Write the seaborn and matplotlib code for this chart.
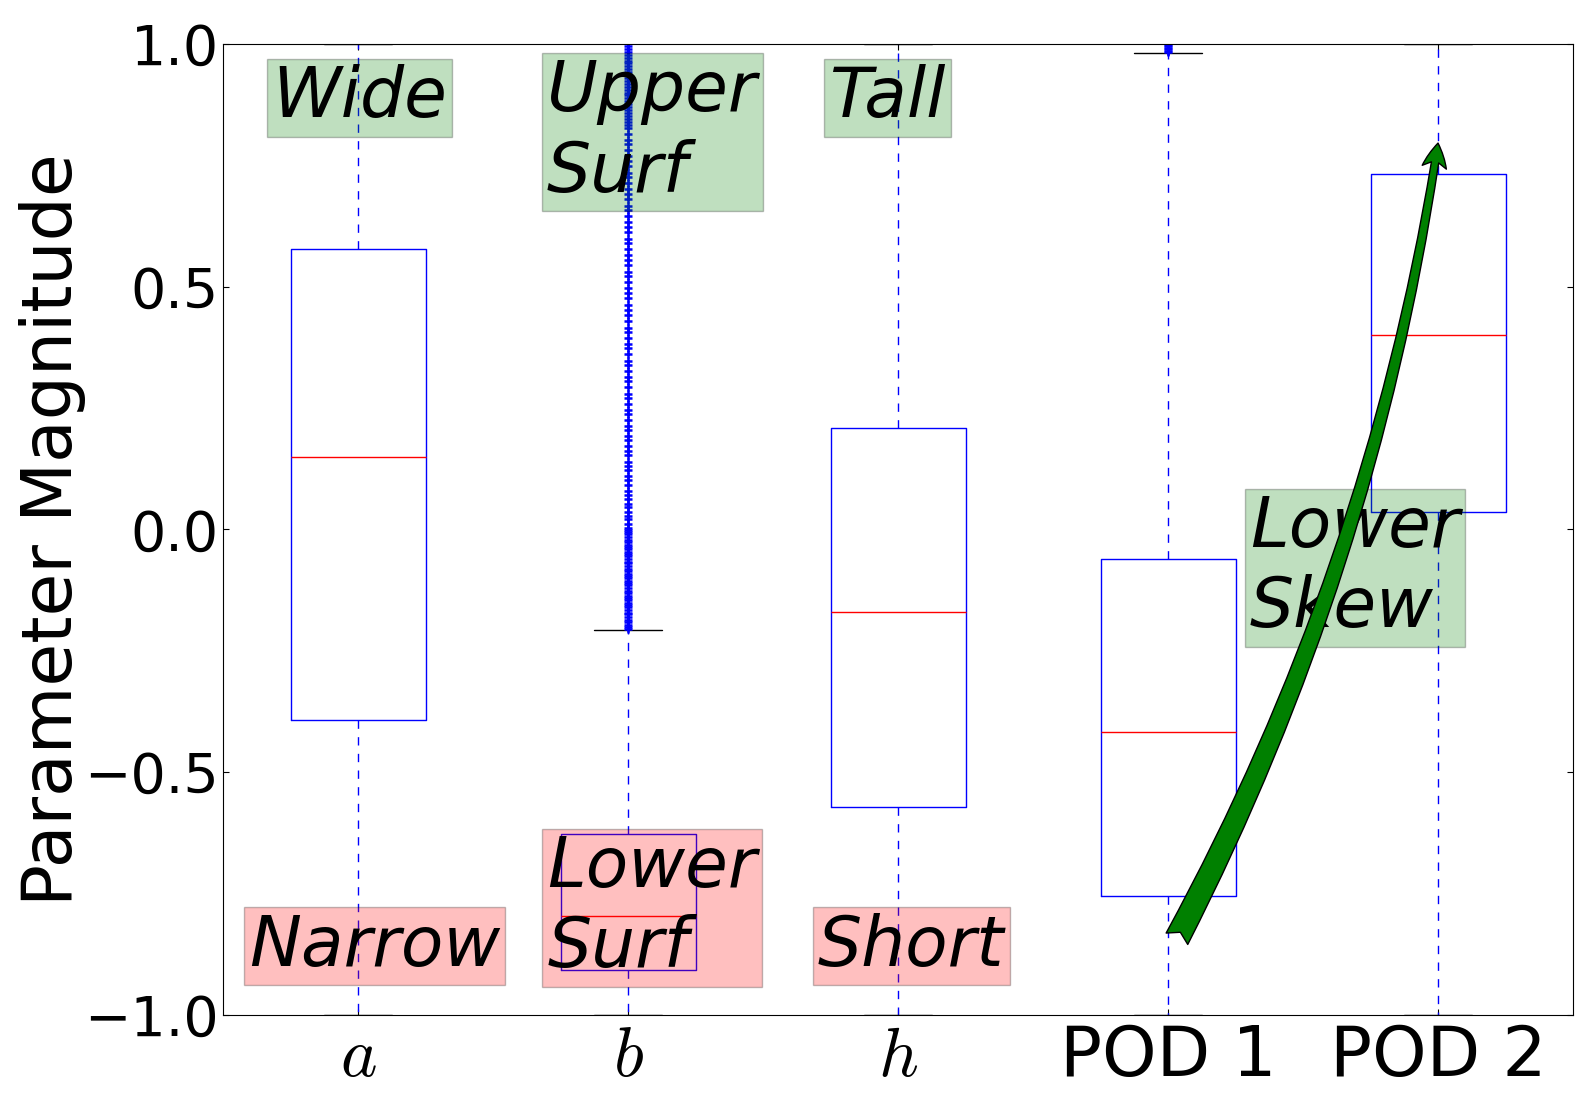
import matplotlib
matplotlib.use("Agg")
import matplotlib.pyplot as plt
import seaborn as sns

# box statistics
labels = ["$a$", "$b$", "$h$", "POD 1", "POD 2"]
q1 = [-0.393, -0.907, -0.571, -0.755, 0.036]
med = [0.150, -0.797, -0.170, -0.418, 0.401]
q3 = [0.577, -0.627, 0.209, -0.060, 0.732]
whislo = [-1.0, -1.0, -1.0, -1.0, -1.0]
whishi = [1.0, -0.207, 1.0, 0.981, 1.0]

fliers_b = [
    -0.205, -0.200, -0.196, -0.190, -0.186, -0.181, -0.175, -0.171, -0.166, -0.160,
    -0.156, -0.151, -0.145, -0.141, -0.136, -0.130, -0.126, -0.121, -0.115, -0.111,
    -0.106, -0.100, -0.096, -0.091, -0.085, -0.081, -0.076, -0.070, -0.066, -0.061,
    -0.055, -0.051, -0.046, -0.040, -0.036, -0.031, -0.025, -0.021, -0.016, -0.010,
    -0.006, -0.001, 0.004,
    0.012, 0.021, 0.028, 0.037, 0.046, 0.053, 0.063, 0.071, 0.080, 0.092,
    0.101, 0.110, 0.122, 0.131, 0.140, 0.153, 0.161, 0.172, 0.184, 0.193,
    0.205, 0.214, 0.226, 0.238, 0.247, 0.259, 0.271, 0.280, 0.293, 0.305,
    0.314, 0.327, 0.339, 0.348, 0.361, 0.373, 0.382, 0.395, 0.407, 0.416,
    0.429, 0.441, 0.452, 0.463, 0.476, 0.488, 0.497, 0.510, 0.522, 0.531,
    0.544, 0.556, 0.565, 0.578, 0.590, 0.599, 0.612, 0.624, 0.633, 0.646,
    0.658, 0.667, 0.680, 0.692, 0.701, 0.714, 0.726, 0.735, 0.748, 0.760,
    0.769, 0.782, 0.794, 0.803, 0.815, 0.826,
    0.834, 0.840, 0.846, 0.852, 0.858, 0.864, 0.870, 0.876, 0.882, 0.888,
    0.894, 0.900, 0.906, 0.912, 0.918, 0.924, 0.930, 0.936, 0.942, 0.948,
    0.954, 0.960, 0.966, 0.972, 0.978, 0.984, 0.990, 0.996,
]
fliers_pod1 = [0.983, 0.986, 0.989, 0.992, 0.995, 0.998]
fliers = [[], fliers_b, [], fliers_pod1, []]

# text boxes
notes = ["Wide", "Narrow", "Upper\nSurf", "Lower\nSurf", "Tall", "Short", "Lower\nSkew"]
note_x = [1.006, 1.061, 2.089, 2.089, 2.961, 3.049, 4.691]
note_y = [0.889, -0.858, 0.819, -0.779, 0.889, -0.858, -0.079]
note_col = ["green", "red", "green", "red", "green", "red", "green"]

# arrow (tail -> head)
arrow_tail = (4.033, -0.843)
arrow_head = (5.0, 0.796)

sns.set_style("white", {
    "xtick.direction": "in",
    "ytick.direction": "in",
    "xtick.top": True,
    "ytick.right": True,
    "xtick.bottom": True,
    "ytick.left": True,
    "axes.edgecolor": "black",
    "text.color": "black",
    "axes.labelcolor": "black",
    "xtick.color": "black",
    "ytick.color": "black",
})
plt.rcParams["font.family"] = ["DejaVu Sans"]
plt.rcParams["mathtext.fontset"] = "cm"

fig = plt.figure(figsize=(15.91, 11.06), dpi=100)
ax = fig.add_axes([0.1402, 0.0823, 0.8485, 0.8779])

stats = []
for i in range(len(labels)):
    stats.append(dict(label=labels[i], q1=q1[i], med=med[i], q3=q3[i],
                      whislo=whislo[i], whishi=whishi[i], fliers=fliers[i]))

ax.bxp(stats, positions=[1, 2, 3, 4, 5], widths=0.5,
       boxprops=dict(color="blue", lw=1),
       medianprops=dict(color="red", lw=1),
       whiskerprops=dict(color="blue", linestyle=(0, (6, 6)), lw=1),
       capprops=dict(color="black", lw=1),
       flierprops=dict(marker="+", markeredgecolor="blue", markersize=6,
                       markeredgewidth=1.8, linestyle="none"))

ax.set_xlim(0.5, 5.5)
ax.set_ylim(-1, 1)
ax.set_yticks([-1, -0.5, 0, 0.5, 1])
ax.set_xticks([1, 2, 3, 4, 5])
ax.set_xticklabels(labels, fontsize=50)
ax.tick_params(axis="y", labelsize=40, pad=3)
ax.tick_params(axis="x", pad=6)
ax.tick_params(length=4.5, width=0.8, color="black")
ax.set_ylabel("Parameter Magnitude", fontsize=50, labelpad=-1)

for s, x, y, c in zip(notes, note_x, note_y, note_col):
    ax.text(x, y, s, fontsize=50, style="italic", ha="center", va="center",
            multialignment="left", linespacing=1.25,
            bbox=dict(boxstyle="square,pad=0.075", fc=c, ec="black", alpha=0.25))

ax.annotate("", xy=arrow_head, xytext=arrow_tail,
            arrowprops=dict(arrowstyle="fancy", connectionstyle="arc3,rad=0.085",
                            fc="green", ec="black", lw=1, mutation_scale=44,
                            shrinkA=0, shrinkB=0))

fig.savefig("out.png", dpi=100)
